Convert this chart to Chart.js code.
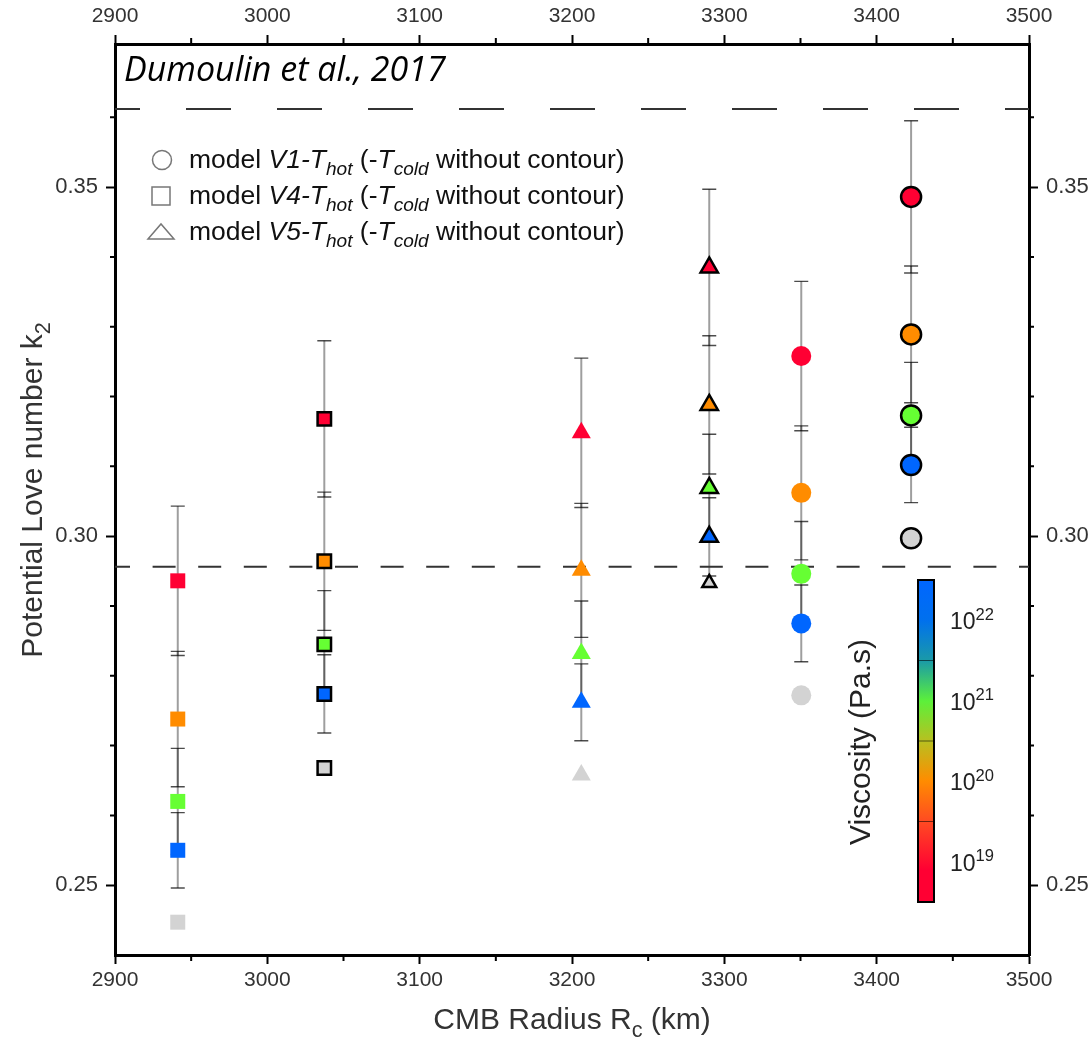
<!DOCTYPE html>
<html><head><meta charset="utf-8">
<script src="https://cdn.jsdelivr.net/npm/chart.js@4.4.1/dist/chart.umd.min.js"></script>
<style>html,body{margin:0;padding:0;background:#fff;}canvas{display:block}</style>
</head><body>
<canvas id="c" width="1092" height="1037"></canvas>
<script>
// ---------------- DATA ----------------
// viscosity classes (colour order): 1e19, 1e20, 1e21, 1e22, grey (no error bar)
const viscosityClasses = ['1e19', '1e20', '1e21', '1e22', 'grey'];
// CMB radius (km) of each model group
const groupNames  = ['V4-Tcold', 'V4-Thot', 'V5-Tcold', 'V5-Thot', 'V1-Tcold', 'V1-Thot'];
const groupRadius = [2941.2, 3037.4, 3206.1, 3290.1, 3350.5, 3422.6];
// k2 values per group (ordered as viscosityClasses)
const k2V4cold = [0.2936, 0.2738, 0.2620, 0.2550, 0.2447];
const k2V4hot  = [0.3168, 0.2964, 0.2845, 0.2774, 0.2668];
const k2V5cold = [0.3148, 0.2951, 0.2832, 0.2762, 0.2658];
const k2V5hot  = [0.3385, 0.3188, 0.3069, 0.2999, 0.2933];
const k2V1cold = [0.3258, 0.3062, 0.2946, 0.2875, 0.2772];
const k2V1hot  = [0.3486, 0.3289, 0.3173, 0.3102, 0.2997];
// symmetric error bars (null = none)
const errV4cold = [0.0107, 0.0097, 0.0076, 0.0054, null];
const errV4hot  = [0.0112, 0.0099, 0.0077, 0.0056, null];
const errV5cold = [0.0107, 0.0096, 0.0075, 0.0055, null];
const errV5hot  = [0.0112, 0.0099, 0.0077, 0.0056, null];
const errV1cold = [0.0107, 0.0096, 0.0075, 0.0055, null];
const errV1hot  = [0.0109, 0.0098, 0.0076, 0.0054, null];
// reference (dashed) k2 levels
const referenceK2 = [0.3612, 0.2956];
// axis tick labels
const xTickLabels = [2900, 3000, 3100, 3200, 3300, 3400, 3500];
const yTickLabels = [0.25, 0.30, 0.35];
const colorbarExponents = ['19', '20', '21', '22'];

// ---------------- STYLE ----------------
const palette = ['#ff0033', '#ff8c00', '#66ff33', '#0066ff', '#d3d3d3'];
const groupShape   = ['rect', 'rect', 'triangle', 'triangle', 'circle', 'circle'];
const groupContour = [false, true, false, true, false, true];
const FONT = 'Liberation Sans, Arial, sans-serif';

const k2Groups = [k2V4cold, k2V4hot, k2V5cold, k2V5hot, k2V1cold, k2V1hot];
const errGroups = [errV4cold, errV4hot, errV5cold, errV5hot, errV1cold, errV1hot];

function radiusFor(shape, contour, i) {
  if (shape === 'rect') return contour ? 9.5 : 10.6;
  if (shape === 'circle') return 10;
  if (contour && i === 4) return 8;
  return contour ? 10 : 11;
}

const datasets = groupNames.map((name, g) => ({
  type: 'scatter',
  label: name,
  order: 0,
  data: k2Groups[g].map(v => ({ x: groupRadius[g], y: v })),
  errors: errGroups[g],
  pointStyle: groupShape[g],
  pointRadius: k2Groups[g].map((v, i) => radiusFor(groupShape[g], groupContour[g], i)),
  pointHoverRadius: k2Groups[g].map((v, i) => radiusFor(groupShape[g], groupContour[g], i)),
  pointBackgroundColor: palette,
  pointBorderColor: groupContour[g] ? '#000' : 'rgba(0,0,0,0)',
  pointBorderWidth: groupContour[g] ? 2.5 : 0,
  showLine: false
}));
referenceK2.forEach((v, i) => datasets.push({
  type: 'line',
  label: 'ref' + i,
  order: 10,
  data: [{ x: 2900, y: v }, { x: 3500, y: v }],
  borderColor: '#333',
  borderWidth: 2,
  borderDash: i === 0 ? [45, 46] : [23, 22.6],
  borderDashOffset: i === 0 ? 20 : 8,
  pointRadius: 0,
  fill: false
}));

const isMajorX = v => xTickLabels.some(t => Math.abs(t - v) < 1e-6);
const isMajorY = v => yTickLabels.some(t => Math.abs(t - v) < 1e-6);

// ---------------- PLUGINS ----------------
const errorBars = {
  id: 'errorBars',
  beforeDatasetsDraw(chart) {
    const ctx = chart.ctx, xs = chart.scales.x, ys = chart.scales.y;
    ctx.save();
    chart.data.datasets.forEach(ds => {
      if (!ds.errors) return;
      ds.data.forEach((p, i) => {
        const e = ds.errors[i];
        if (e == null) return;
        const px = xs.getPixelForValue(p.x);
        const y1 = ys.getPixelForValue(p.y + e), y2 = ys.getPixelForValue(p.y - e);
        ctx.strokeStyle = 'rgba(0,0,0,0.38)';
        ctx.lineWidth = 2;
        ctx.beginPath(); ctx.moveTo(px, y1); ctx.lineTo(px, y2); ctx.stroke();
        ctx.strokeStyle = 'rgba(0,0,0,0.7)';
        ctx.lineWidth = 1.4;
        ctx.beginPath();
        ctx.moveTo(px - 7, y1); ctx.lineTo(px + 7, y1);
        ctx.moveTo(px - 7, y2); ctx.lineTo(px + 7, y2);
        ctx.stroke();
      });
    });
    ctx.restore();
  }
};

function richWidth(ctx, parts, base) {
  let w = 0;
  for (const p of parts) {
    const size = (p.sub || p.sup) ? base * 0.72 : base;
    ctx.font = `${p.italic ? 'italic ' : ''}${size}px ${FONT}`;
    w += ctx.measureText(p.t).width;
  }
  return w;
}
function richText(ctx, x, y, parts, base) {
  let cx = x;
  for (const p of parts) {
    const size = (p.sub || p.sup) ? base * 0.72 : base;
    ctx.font = `${p.italic ? 'italic ' : ''}${size}px ${FONT}`;
    const dy = p.sub ? base * 0.28 : (p.sup ? -base * 0.42 : 0);
    ctx.fillText(p.t, cx, y + dy);
    cx += ctx.measureText(p.t).width;
  }
}

const decorations = {
  id: 'decorations',
  afterDraw(chart) {
    const ctx = chart.ctx;
    const ca = chart.chartArea;
    ctx.save();
    // minor ticks
    ctx.strokeStyle = '#000'; ctx.lineWidth = 2;
    const xs = chart.scales.x, ys = chart.scales.y;
    ctx.beginPath();
    for (let v = 2950; v < 3500; v += 100) {
      const px = xs.getPixelForValue(v);
      ctx.moveTo(px, ca.bottom); ctx.lineTo(px, ca.bottom + 6);
      ctx.moveTo(px, ca.top); ctx.lineTo(px, ca.top - 6);
    }
    for (let k = 26; k <= 36; k++) {
      const v = k / 100;
      if (isMajorY(v)) continue;
      const py = ys.getPixelForValue(v);
      ctx.moveTo(ca.left, py); ctx.lineTo(ca.left - 5, py);
      ctx.moveTo(ca.right, py); ctx.lineTo(ca.right + 5, py);
    }
    ctx.stroke();

    // title inside plot
    ctx.fillStyle = '#000';
    ctx.textBaseline = 'alphabetic';
    ctx.textAlign = 'left';
    ctx.font = 'italic 34px "Open Sans", sans-serif';
    ctx.fillText('Dumoulin et al., 2017', ca.left + 9, 81);

    // legend
    const lx = 161, rows = [160, 196, 232];
    ctx.strokeStyle = '#777'; ctx.lineWidth = 1.5;
    ctx.beginPath(); ctx.arc(lx + 1, rows[0], 9.5, 0, Math.PI * 2); ctx.stroke();
    ctx.strokeRect(lx - 9, rows[1] - 9, 18, 18);
    ctx.beginPath();
    ctx.moveTo(lx - 13, rows[2] + 7); ctx.lineTo(lx + 13, rows[2] + 7); ctx.lineTo(lx, rows[2] - 8); ctx.closePath(); ctx.stroke();
    const models = ['V1', 'V4', 'V5'];
    ctx.fillStyle = '#111';
    models.forEach((m, i) => {
      richText(ctx, 189, rows[i] + 8, [
        { t: 'model ' }, { t: m + '-T', italic: true }, { t: 'hot', italic: true, sub: true },
        { t: ' (-' }, { t: 'T', italic: true }, { t: 'cold', italic: true, sub: true },
        { t: ' without contour)' }
      ], 26.5);
    });

    // axis titles
    ctx.fillStyle = '#333';
    const xt = [{ t: 'CMB Radius R' }, { t: 'c', sub: true }, { t: ' (km)' }];
    const xw = richWidth(ctx, xt, 30);
    richText(ctx, (ca.left + ca.right) / 2 - xw / 2, 1029, xt, 30);
    const yt = [{ t: 'Potential Love number k' }, { t: '2', sub: true }];
    const yw = richWidth(ctx, yt, 30);
    ctx.save();
    ctx.translate(42, 490);
    ctx.rotate(-Math.PI / 2);
    richText(ctx, -yw / 2, 0, yt, 30);
    ctx.restore();

    // colorbar
    const cx0 = 918, cx1 = 934, cy0 = 580, cy1 = 902;
    const grad = ctx.createLinearGradient(0, cy1, 0, cy0);
    grad.addColorStop(0, '#ff0033');
    grad.addColorStop(0.1, '#ff0033');
    grad.addColorStop(0.25, '#ff4a22');
    grad.addColorStop(0.376, '#ff8c00');
    grad.addColorStop(0.5, '#b8c020');
    grad.addColorStop(0.624, '#5cf03a');
    grad.addColorStop(0.75, '#1a9aa8');
    grad.addColorStop(0.876, '#0070ee');
    grad.addColorStop(1, '#0066ff');
    ctx.fillStyle = grad;
    ctx.fillRect(cx0, cy0, cx1 - cx0, cy1 - cy0);
    ctx.strokeStyle = 'rgba(0,0,0,0.55)'; ctx.lineWidth = 1;
    const seg = (cy1 - cy0) / 4;
    ctx.beginPath();
    for (let k = 1; k < 4; k++) { ctx.moveTo(cx0, cy0 + seg * k); ctx.lineTo(cx1, cy0 + seg * k); }
    ctx.stroke();
    ctx.strokeStyle = '#000'; ctx.lineWidth = 2;
    ctx.strokeRect(cx0, cy0, cx1 - cx0, cy1 - cy0);
    ctx.fillStyle = '#222';
    colorbarExponents.forEach((e, k) => {
      const cy = cy1 - seg * (k + 0.5);
      richText(ctx, 950, cy + 9, [{ t: '10' }, { t: e, sup: true }], 23);
    });
    ctx.save();
    ctx.translate(870, 742);
    ctx.rotate(-Math.PI / 2);
    ctx.font = `30px ${FONT}`;
    ctx.textAlign = 'center';
    ctx.fillText('Viscosity (Pa.s)', 0, 0);
    ctx.restore();
    ctx.restore();
  }
};

// ---------------- SCALES ----------------
function xScale(pos, h) {
  return {
    type: 'linear', position: pos, min: 2900, max: 3500,
    ticks: {
      stepSize: 100, autoSkip: false, maxRotation: 0, color: '#333',
      font: { family: FONT, size: 21 }, padding: pos === 'bottom' ? 4 : 6,
      callback: v => isMajorX(v) ? String(v) : ''
    },
    grid: { drawOnChartArea: false, drawTicks: true, tickLength: 9, tickWidth: 2, tickColor: '#000' },
    border: { display: true, color: '#000', width: 3 },
    afterFit: s => { s.height = h; }
  };
}
function yScale(pos, w) {
  return {
    type: 'linear', position: pos, min: 0.24, max: 0.3705,
    ticks: {
      stepSize: 0.05, autoSkip: false, color: '#333',
      font: { family: FONT, size: 22 }, padding: 8,
      callback: v => isMajorY(v) ? v.toFixed(2) : ''
    },
    afterBuildTicks: s => { s.ticks = yTickLabels.map(v => ({ value: v })); },
    grid: { drawOnChartArea: false, drawTicks: true, tickLength: 9, tickWidth: 2, tickColor: '#000' },
    border: { display: true, color: '#000', width: 3 },
    afterFit: s => { s.width = w; }
  };
}

new Chart(document.getElementById('c'), {
  type: 'scatter',
  data: { datasets },
  options: {
    responsive: false, animation: false, devicePixelRatio: 1,
    layout: { padding: 0 },
    plugins: { legend: { display: false }, tooltip: { enabled: false } },
    scales: {
      x: xScale('bottom', 82),
      x2: xScale('top', 44),
      y: yScale('left', 115),
      y2: yScale('right', 63)
    }
  },
  plugins: [errorBars, decorations]
});
</script>
</body></html>
